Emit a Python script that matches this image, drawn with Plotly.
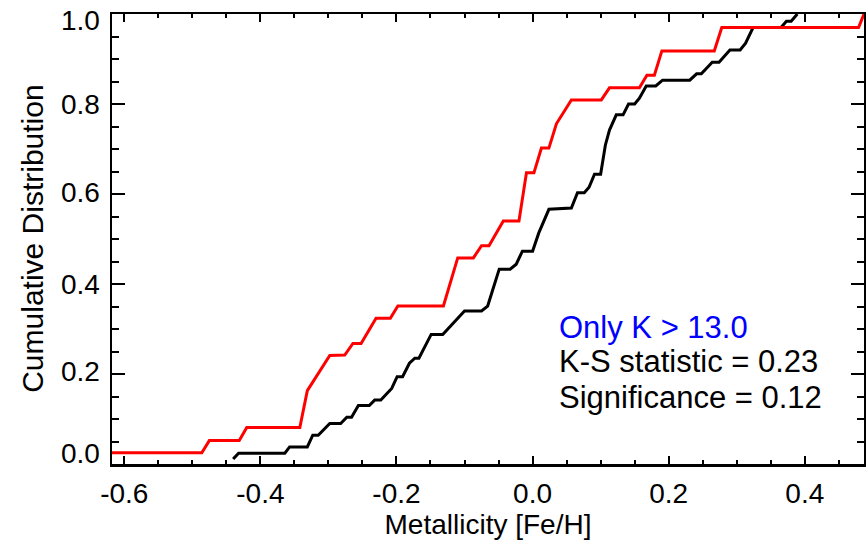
import plotly.graph_objects as go

# ---- data ----
red_x = [-0.618, -0.486, -0.475, -0.431, -0.420, -0.342, -0.331, -0.298, -0.276, -0.264,
         -0.252, -0.230, -0.209, -0.198, -0.131, -0.110, -0.087, -0.075, -0.064, -0.043,
         -0.020, -0.009, 0.002, 0.013, 0.024, 0.035, 0.057, 0.101, 0.113, 0.157,
         0.168, 0.179, 0.190, 0.267, 0.278, 0.479, 0.487]
red_y = [0.025, 0.025, 0.052, 0.052, 0.081, 0.081, 0.163, 0.241, 0.242, 0.268,
         0.268, 0.324, 0.324, 0.351, 0.351, 0.458, 0.458, 0.485, 0.485, 0.540,
         0.540, 0.647, 0.647, 0.702, 0.702, 0.756, 0.809, 0.809, 0.836, 0.836,
         0.864, 0.864, 0.918, 0.918, 0.970, 0.970, 1.000]

black_x = [-0.440, -0.432, -0.364, -0.357, -0.331, -0.323, -0.315, -0.298, -0.282, -0.273,
           -0.266, -0.256, -0.240, -0.232, -0.223, -0.207, -0.199, -0.191, -0.181, -0.173,
           -0.167, -0.149, -0.132, -0.100, -0.075, -0.066, -0.049, -0.033, -0.024, -0.015,
           0.000, 0.009, 0.024, 0.057, 0.066, 0.076, 0.083, 0.091, 0.100, 0.107,
           0.113, 0.123, 0.133, 0.141, 0.150, 0.157, 0.167, 0.181, 0.191, 0.231,
           0.241, 0.248, 0.264, 0.274, 0.290, 0.305, 0.313, 0.324, 0.365, 0.373,
           0.380, 0.389]
black_y = [0.011, 0.024, 0.024, 0.038, 0.038, 0.064, 0.064, 0.090, 0.090, 0.104,
           0.104, 0.130, 0.130, 0.142, 0.142, 0.168, 0.194, 0.194, 0.224, 0.235,
           0.235, 0.288, 0.288, 0.340, 0.340, 0.351, 0.433, 0.433, 0.444, 0.473,
           0.473, 0.513, 0.566, 0.569, 0.603, 0.603, 0.615, 0.644, 0.644, 0.709,
           0.742, 0.776, 0.776, 0.800, 0.800, 0.813, 0.840, 0.840, 0.853, 0.853,
           0.867, 0.867, 0.893, 0.893, 0.920, 0.920, 0.935, 0.970, 0.970, 0.984,
           0.984, 1.000]

x_tickvals = [-0.6, -0.4, -0.2, 0.0, 0.2, 0.4]
x_ticktext = ["-0.6", "-0.4", "-0.2", "0.0", "0.2", "0.4"]
y_tickvals = [0.0, 0.2, 0.4, 0.6, 0.8, 1.0]
y_ticktext = ["0.0", "0.2", "0.4", "0.6", "0.8", "1.0"]

x_range = [-0.618, 0.487]
y_range = [0.0, 1.0]

label_title = "Only K > 13.0"
ks_text = "K-S statistic = 0.23"
sig_text = "Significance = 0.12"

FONT = "Liberation Sans, Arial, Helvetica, sans-serif"

fig = go.Figure()
fig.add_trace(go.Scatter(x=black_x, y=black_y, mode="lines", hoverinfo="skip",
                         line=dict(color="black", width=3), showlegend=False))
fig.add_trace(go.Scatter(x=red_x, y=red_y, mode="lines", hoverinfo="skip",
                         line=dict(color="#ff0000", width=3), showlegend=False))

axis_common = dict(showline=True, linecolor="black", linewidth=2.5, mirror="allticks",
                   ticks="inside", tickcolor="black", tickwidth=2, showgrid=False,
                   zeroline=False)

fig.update_xaxes(range=x_range, tickvals=x_tickvals, ticktext=x_ticktext, ticklen=8,
                 tickfont=dict(family=FONT, size=28, color="black"),
                 minor=dict(ticks="inside", ticklen=4, dtick=0.05, tick0=0,
                            tickcolor="black", tickwidth=2),
                 title=dict(text="Metallicity [Fe/H]", font=dict(family=FONT, size=28, color="black"),
                            standoff=0),
                 ticklabelstandoff=3,
                 **axis_common)
fig.update_yaxes(range=y_range, tickvals=y_tickvals, showticklabels=False, ticklen=13,
                 minor=dict(ticks="inside", ticklen=7, dtick=0.05, tick0=0,
                            tickcolor="black", tickwidth=2),
                 **axis_common)

# y tick labels (drawn as text so the end labels sit like the reference)
y_label_shift = [11, 3, 0, 2, 0, -6]
for v, t, s in zip(y_tickvals, y_ticktext, y_label_shift):
    fig.add_annotation(x=0, y=v, xref="paper", yref="y", text=t, showarrow=False,
                       xanchor="right", yanchor="middle", xshift=-10, yshift=s,
                       font=dict(family=FONT, size=28, color="black"))

fig.add_annotation(x=-0.1, y=0.5, xref="paper", yref="paper", text="Cumulative Distribution",
                   showarrow=False, textangle=-90, xanchor="center", yanchor="middle",
                   xshift=-5, font=dict(family=FONT, size=30, color="black"))

fig.add_annotation(x=0.036, y=0.304, xref="x", yref="y", text=label_title, showarrow=False,
                   xanchor="left", yanchor="middle",
                   font=dict(family=FONT, size=31, color="#0000ff"))
fig.add_annotation(x=0.036, y=0.227, xref="x", yref="y", text=ks_text, showarrow=False,
                   xanchor="left", yanchor="middle",
                   font=dict(family=FONT, size=31, color="black"))
fig.add_annotation(x=0.036, y=0.147, xref="x", yref="y", text=sig_text, showarrow=False,
                   xanchor="left", yanchor="middle",
                   font=dict(family=FONT, size=31, color="black"))

fig.update_layout(width=866, height=541, paper_bgcolor="white", plot_bgcolor="white",
                  margin=dict(l=112, r=2, t=14, b=77, autoexpand=False),
                  hovermode=False,
                  font=dict(family=FONT, color="black"))

fig.write_html("out.html", config={"displayModeBar": False, "staticPlot": True},
               post_script="document.body.style.margin='0px';document.body.style.padding='0px';")
